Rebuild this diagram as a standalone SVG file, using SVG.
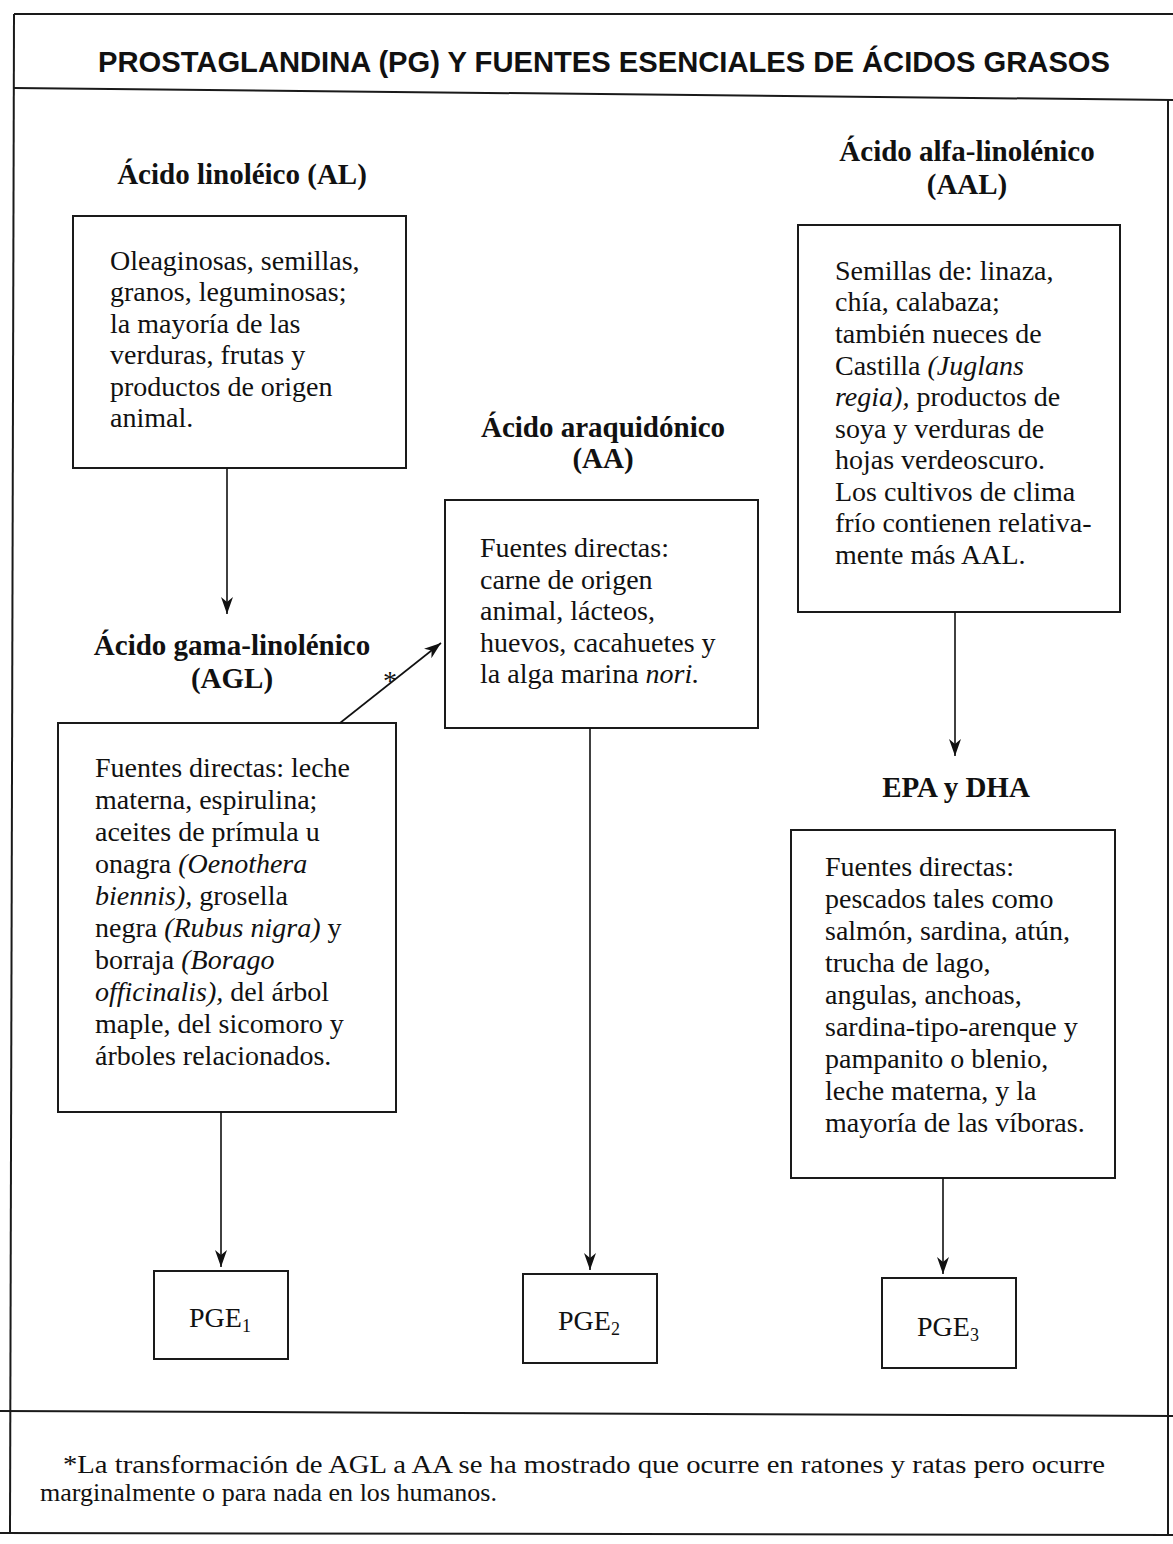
<svg xmlns="http://www.w3.org/2000/svg" width="1173" height="1544" viewBox="0 0 1173 1544">
<style>
.frame{fill:none;stroke:#1a1a1a;stroke-width:2}
.box{fill:none;stroke:#1a1a1a;stroke-width:2}
.t{font-family:"Liberation Serif","Times New Roman",serif;font-size:28px;fill:#111}
.h{font-family:"Liberation Serif","Times New Roman",serif;font-size:29px;font-weight:bold;fill:#111;text-anchor:middle}
.i{font-style:italic}
.title{font-family:"Liberation Sans",Arial,sans-serif;font-size:30px;font-weight:bold;fill:#111;text-anchor:middle}
.pge{font-family:"Liberation Serif","Times New Roman",serif;font-size:28px;fill:#111;text-anchor:middle}
.conn line{stroke:#111;stroke-width:1.6;fill:none;marker-end:url(#ah)}
.foot{font-family:"Liberation Serif","Times New Roman",serif;font-size:25px;fill:#111}
</style>
<defs>
<marker id="ah" markerUnits="userSpaceOnUse" markerWidth="18" markerHeight="12" refX="17" refY="6" orient="auto">
<path d="M0,0 L17,6 L0,12 L5,6 z" fill="#111"/>
</marker>
</defs>
<rect x="0" y="0" width="1173" height="1544" fill="#fff"/>

<g id="frame">
<line class="frame" x1="14" y1="14" x2="1173" y2="14"/>
<line class="frame" x1="14" y1="14" x2="10" y2="1533"/>
<line class="frame" x1="14" y1="88" x2="1173" y2="100"/>
<line class="frame" x1="1168" y1="100" x2="1168" y2="1535"/>
<line class="frame" x1="0" y1="1411" x2="1173" y2="1416"/>
<line class="frame" x1="0" y1="1533" x2="1173" y2="1535"/>
</g>

<g id="title">
<text class="title" x="604" y="72" textLength="1012" lengthAdjust="spacingAndGlyphs">PROSTAGLANDINA (PG) Y FUENTES ESENCIALES DE ÁCIDOS GRASOS</text>
</g>

<g id="node-al">
<text class="h" x="242" y="184">Ácido linoléico (AL)</text>
<rect class="box" x="73" y="216" width="333" height="252"/>
<text class="t" x="110" y="270">Oleaginosas, semillas,</text>
<text class="t" x="110" y="301">granos, leguminosas;</text>
<text class="t" x="110" y="333">la mayoría de las</text>
<text class="t" x="110" y="364">verduras, frutas y</text>
<text class="t" x="110" y="396">productos de origen</text>
<text class="t" x="110" y="427">animal.</text>
</g>

<g id="node-aal">
<text class="h" x="967" y="161">Ácido alfa-linolénico</text>
<text class="h" x="967" y="194">(AAL)</text>
<rect class="box" x="798" y="225" width="322" height="387"/>
<text class="t" x="835" y="280">Semillas de: linaza,</text>
<text class="t" x="835" y="311">chía, calabaza;</text>
<text class="t" x="835" y="343">también nueces de</text>
<text class="t" x="835" y="375">Castilla <tspan class="i">(Juglans</tspan></text>
<text class="t" x="835" y="406"><tspan class="i">regia),</tspan> productos de</text>
<text class="t" x="835" y="438">soya y verduras de</text>
<text class="t" x="835" y="469">hojas verdeoscuro.</text>
<text class="t" x="835" y="501">Los cultivos de clima</text>
<text class="t" x="835" y="532">frío contienen relativa-</text>
<text class="t" x="835" y="564">mente más AAL.</text>
</g>

<g id="node-aa">
<text class="h" x="603" y="437">Ácido araquidónico</text>
<text class="h" x="603" y="468">(AA)</text>
<rect class="box" x="445" y="500" width="313" height="228"/>
<text class="t" x="480" y="557">Fuentes directas:</text>
<text class="t" x="480" y="589">carne de origen</text>
<text class="t" x="480" y="620">animal, lácteos,</text>
<text class="t" x="480" y="652">huevos, cacahuetes y</text>
<text class="t" x="480" y="683">la alga marina <tspan class="i">nori.</tspan></text>
</g>

<g id="node-agl">
<text class="h" x="232" y="655">Ácido gama-linolénico</text>
<text class="h" x="232" y="688">(AGL)</text>
<rect class="box" x="58" y="723" width="338" height="389"/>
<text class="t" x="95" y="777">Fuentes directas: leche</text>
<text class="t" x="95" y="809">materna, espirulina;</text>
<text class="t" x="95" y="841">aceites de prímula u</text>
<text class="t" x="95" y="873">onagra <tspan class="i">(Oenothera</tspan></text>
<text class="t" x="95" y="905"><tspan class="i">biennis),</tspan> grosella</text>
<text class="t" x="95" y="937">negra <tspan class="i">(Rubus nigra)</tspan> y</text>
<text class="t" x="95" y="969">borraja <tspan class="i">(Borago</tspan></text>
<text class="t" x="95" y="1001"><tspan class="i">officinalis),</tspan> del árbol</text>
<text class="t" x="95" y="1033">maple, del sicomoro y</text>
<text class="t" x="95" y="1065">árboles relacionados.</text>
</g>

<g id="node-epa">
<text class="h" x="956" y="797">EPA y DHA</text>
<rect class="box" x="791" y="830" width="324" height="348"/>
<text class="t" x="825" y="876">Fuentes directas:</text>
<text class="t" x="825" y="908">pescados tales como</text>
<text class="t" x="825" y="940">salmón, sardina, atún,</text>
<text class="t" x="825" y="972">trucha de lago,</text>
<text class="t" x="825" y="1004">angulas, anchoas,</text>
<text class="t" x="825" y="1036">sardina-tipo-arenque y</text>
<text class="t" x="825" y="1068">pampanito o blenio,</text>
<text class="t" x="825" y="1100">leche materna, y la</text>
<text class="t" x="825" y="1132">mayoría de las víboras.</text>
</g>

<g id="node-pge1">
<rect class="box" x="154" y="1271" width="134" height="88"/>
<text class="pge" x="220" y="1327">PGE<tspan font-size="18" dy="5">1</tspan></text>
</g>
<g id="node-pge2">
<rect class="box" x="523" y="1274" width="134" height="89"/>
<text class="pge" x="589" y="1330">PGE<tspan font-size="18" dy="5">2</tspan></text>
</g>
<g id="node-pge3">
<rect class="box" x="882" y="1278" width="134" height="90"/>
<text class="pge" x="948" y="1336">PGE<tspan font-size="18" dy="5">3</tspan></text>
</g>

<g id="connectors" class="conn">
<line x1="227" y1="468" x2="227" y2="614"/>
<line x1="340" y1="723" x2="441" y2="643"/>
<line x1="221" y1="1112" x2="221" y2="1267"/>
<line x1="590" y1="728" x2="590" y2="1270"/>
<line x1="955" y1="612" x2="955" y2="756"/>
<line x1="943" y1="1178" x2="943" y2="1274"/>
</g>
<text id="asterisk" class="t" x="383" y="690">*</text>

<g id="footnote">
<text class="foot" x="63" y="1473" textLength="1042" lengthAdjust="spacingAndGlyphs">*La transformación de AGL a AA se ha mostrado que ocurre en ratones y ratas pero ocurre</text>
<text class="foot" x="40" y="1501" textLength="457" lengthAdjust="spacingAndGlyphs">marginalmente o para nada en los humanos.</text>
</g>
</svg>
